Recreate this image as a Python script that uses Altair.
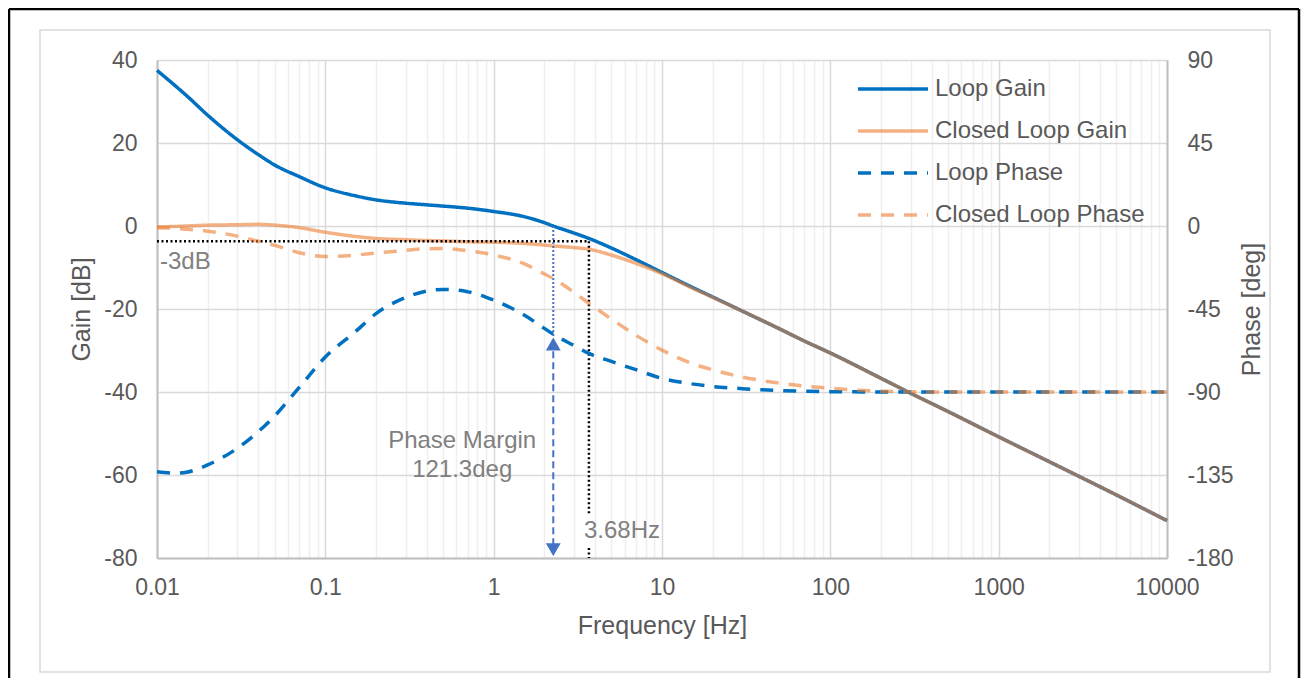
import altair as alt
import pandas as pd

# ---------------- data ----------------
freqs = [0.01, 0.013, 0.015, 0.02, 0.03, 0.04, 0.05, 0.07, 0.1, 0.15, 0.2, 0.3, 0.4, 0.5, 0.7,
         1, 1.5, 2, 2.26, 3, 3.68, 5, 7, 10, 15, 20, 30, 50, 70, 100, 200, 300, 500, 1000,
         2000, 5000, 10000]

loop_gain = [37.5, 33.6, 31.4, 26.7, 20.8, 17.2, 14.7, 11.9, 9.2, 7.3, 6.3, 5.5, 5.1, 4.8, 4.3,
             3.5, 2.3, 0.8, 0.0, -1.7, -3.0, -5.3, -8.1, -11.2, -14.7, -17.1, -20.5, -24.8, -27.7, -30.6,
             -36.7, -40.3, -44.7, -50.8, -56.8, -64.8, -71.0]

closed_loop_gain = [-0.2, -0.1, 0.0, 0.2, 0.3, 0.4, 0.2, -0.4, -1.5, -2.5, -3.0, -3.3, -3.5, -3.6, -3.8,
                    -3.9, -4.2, -4.6, -4.8, -5.2, -5.6, -7.0, -9.0, -11.5, -14.9, -17.2, -20.5, -24.8, -27.7, -30.6,
                    -36.7, -40.3, -44.7, -50.8, -56.8, -64.8, -71.0]

loop_phase = [-133.3, -134.0, -133.5, -129.5, -120.5, -111.5, -103.0, -87.5, -71.0, -57.5, -47.5, -38.8, -35.3, -34.4, -35.6,
              -40.2, -48.0, -55.5, -58.7, -64.8, -69.1, -73.4, -77.9, -82.6, -85.6, -87.0, -88.2, -89.2, -89.6, -89.8,
              -90.0, -90.0, -90.0, -90.0, -90.0, -90.0, -90.0]

closed_loop_phase = [-0.9, -1.3, -1.7, -2.8, -5.5, -8.3, -10.5, -14.5, -16.6, -15.8, -14.7, -13.2, -12.3, -12.2, -13.4,
                     -15.7, -20.3, -26.0, -28.5, -36.0, -41.9, -50.4, -59.2, -67.3, -74.5, -78.0, -81.9, -85.2, -86.8, -88.0,
                     -89.6, -89.9, -90.0, -90.0, -90.0, -90.0, -90.0]

series_names = ["Loop Gain", "Closed Loop Gain", "Loop Phase", "Closed Loop Phase"]
series_colors = ["#0070C0", "#ED7D31", "#0070C0", "#ED7D31"]
series_dashes = [[1, 0], [1, 0], [13, 10], [13, 10]]
series_opacity = [1.0, 0.6, 1.0, 0.6]

gain_ticks = [-80, -60, -40, -20, 0, 20, 40]
phase_ticks = [-180, -135, -90, -45, 0, 45, 90]
x_grid_values = [d * 10.0 ** k for k in range(-2, 4) for d in range(1, 10)] + [10000]

# annotation values
minus3db_level = -3.7
bw_freq = 3.68
crossover_freq = 2.26
crossover_phase = -58.7

FONT = "Liberation Sans"
TXT = "#595959"
ANN = "#808080"
ARROW = "#4472C4"


def frame(ys, name):
    return pd.DataFrame({"f": freqs, "v": ys, "series": name})


# ---------------- encodings ----------------
decade_test = "abs(log(datum.value)/LN10 - round(log(datum.value)/LN10)) < 0.001"
x_axis = alt.Axis(values=x_grid_values,
                  labelExpr=f"({decade_test}) ? ('' + datum.value) : ''",
                  labelFlush=False, labelOverlap=False,
                  grid=True,
                  gridColor={"condition": {"test": decade_test, "value": "#d9d9d9"}, "value": "#efefef"},
                  gridWidth=1.5, ticks=False, tickSize=0, labelPadding=18,
                  domainColor="#bfbfbf", domainWidth=2,
                  labelFont=FONT, labelFontSize=23, labelColor=TXT,
                  title="Frequency [Hz]", titleFont=FONT, titleFontSize=25, titleColor=TXT,
                  titleFontWeight="normal", titlePadding=14)
x_enc = alt.X("f:Q", scale=alt.Scale(type="log", domain=[0.01, 10000], nice=False), axis=x_axis)

gain_axis = alt.Axis(values=gain_ticks, orient="left", grid=True, gridColor="#d9d9d9", gridWidth=1.5,
                     ticks=False, tickSize=0, labelPadding=20, domainColor="#bfbfbf", domainWidth=2,
                     labelExpr="'' + datum.value", labelFlush=False,
                     labelFont=FONT, labelFontSize=23, labelColor=TXT,
                     title="Gain [dB]", titleFont=FONT, titleFontSize=25, titleColor=TXT,
                     titleFontWeight="normal", titlePadding=9)
gain_y = alt.Y("v:Q", scale=alt.Scale(domain=[-80, 40], nice=False, zero=False), axis=gain_axis)

phase_axis = alt.Axis(values=phase_ticks, orient="right", grid=False,
                      ticks=False, tickSize=0, labelPadding=20, domainColor="#bfbfbf", domainWidth=2,
                      labelExpr="'' + datum.value", labelFlush=False,
                      labelFont=FONT, labelFontSize=23, labelColor=TXT,
                      title="Phase [deg]", titleFont=FONT, titleFontSize=25, titleColor=TXT,
                      titleFontWeight="normal", titlePadding=31, titleAngle=270)
phase_y = alt.Y("v:Q", scale=alt.Scale(domain=[-180, 90], nice=False, zero=False), axis=phase_axis)

# legend symbol: a 70 px horizontal stroke drawn from a custom path (unit = sqrt(size)/2 = 25 px)
legend = alt.Legend(orient="none", legendX=709, legendY=2, title=None,
                    symbolType="M-1.4,0H1.4", symbolSize=2500, symbolStrokeWidth=3.5,
                    labelFont=FONT, labelFontSize=24, labelColor=TXT, labelOffset=15,
                    labelLimit=400, rowPadding=3, padding=0, direction="vertical")

color_enc = alt.Color("series:N", scale=alt.Scale(domain=series_names, range=series_colors), legend=legend)
dash_enc = alt.StrokeDash("series:N", scale=alt.Scale(domain=series_names, range=series_dashes), legend=legend)
op_enc = alt.Opacity("series:N", scale=alt.Scale(type="ordinal", domain=series_names, range=series_opacity),
                     legend=legend)

one = pd.DataFrame({"a": [0]})

# decorative frames
gray_frame = alt.Chart(one).mark_rect(fillOpacity=0, stroke="#d9d9d9", strokeWidth=1.5).encode(
    x=alt.value(-117), x2=alt.value(1113), y=alt.value(-30), y2=alt.value(612))
black_left = alt.Chart(one).mark_rule(color="black", strokeWidth=2.5).encode(
    x=alt.value(-148), y=alt.value(-51), y2=alt.value(700))
black_right = alt.Chart(one).mark_rule(color="black", strokeWidth=2.5).encode(
    x=alt.value(1142), y=alt.value(-51), y2=alt.value(700))
black_top = alt.Chart(one).mark_rule(color="black", strokeWidth=2.5).encode(
    x=alt.value(-148), x2=alt.value(1142), y=alt.value(-51))

# gain lines
lg = alt.Chart(frame(loop_gain, "Loop Gain")).mark_line(strokeWidth=3.5, interpolate="monotone").encode(
    x=x_enc, y=gain_y, color=color_enc, strokeDash=dash_enc, opacity=op_enc)
clg = alt.Chart(frame(closed_loop_gain, "Closed Loop Gain")).mark_line(strokeWidth=3.5, interpolate="monotone").encode(
    x=x_enc, y=gain_y, color=color_enc, strokeDash=dash_enc, opacity=op_enc)

# -3 dB dotted lines
h_df = pd.DataFrame({"f": [0.01], "f2": [bw_freq], "v": [minus3db_level]})
h_rule = alt.Chart(h_df).mark_rule(color="black", strokeWidth=2.5, strokeDash=[2, 2.5]).encode(
    x=x_enc, x2="f2:Q", y=gain_y)
v_df = pd.DataFrame({"f": [bw_freq, bw_freq], "v": [minus3db_level, -77.6], "v2": [-69.2, -80.0]})
v_rule = alt.Chart(v_df).mark_rule(color="black", strokeWidth=2.5, strokeDash=[2, 2.5]).encode(
    x=x_enc, y=gain_y, y2="v2:Q")
cross_df = pd.DataFrame({"f": [crossover_freq], "v": [0.0], "v2": [-26.5]})
cross_rule = alt.Chart(cross_df).mark_rule(color=ARROW, strokeWidth=2, strokeDash=[2, 2]).encode(
    x=x_enc, y=gain_y, y2="v2:Q")

t3db = alt.Chart(pd.DataFrame({"f": [0.01], "v": [-8.7], "t": ["-3dB"]})).mark_text(
    align="left", baseline="middle", dx=3, font=FONT, fontSize=24, color=ANN).encode(
    x=x_enc, y=gain_y, text="t:N")
thz = alt.Chart(pd.DataFrame({"f": [bw_freq], "v": [-73.6], "t": ["3.68Hz"]})).mark_text(
    align="left", baseline="middle", dx=-5, font=FONT, fontSize=24, color=ANN).encode(
    x=x_enc, y=gain_y, text="t:N")

gain_layer = alt.layer(gray_frame, black_left, black_right, black_top,
                       lg, clg, h_rule, v_rule, cross_rule, t3db, thz)

# phase lines
lp = alt.Chart(frame(loop_phase, "Loop Phase")).mark_line(strokeWidth=3.5, interpolate="monotone").encode(
    x=x_enc, y=phase_y, color=color_enc, strokeDash=dash_enc, opacity=op_enc)
clp = alt.Chart(frame(closed_loop_phase, "Closed Loop Phase")).mark_line(strokeWidth=3.5, interpolate="monotone").encode(
    x=x_enc, y=phase_y, color=color_enc, strokeDash=dash_enc, opacity=op_enc)

arrow_df = pd.DataFrame({"f": [crossover_freq], "v": [-62.0], "v2": [-178.0]})
arrow_line = alt.Chart(arrow_df).mark_rule(color=ARROW, strokeWidth=2, strokeDash=[7, 4]).encode(
    x=x_enc, y=phase_y, y2="v2:Q")
head_up = alt.Chart(pd.DataFrame({"f": [crossover_freq], "v": [-64.0]})).mark_point(
    shape="triangle-up", filled=True, size=220, color=ARROW, opacity=1).encode(x=x_enc, y=phase_y)
head_down = alt.Chart(pd.DataFrame({"f": [crossover_freq], "v": [-175.5]})).mark_point(
    shape="triangle-down", filled=True, size=220, color=ARROW, opacity=1).encode(x=x_enc, y=phase_y)
pm_text = alt.Chart(pd.DataFrame({"f": [0.65, 0.65], "v": [-116.6, -132.3],
                                  "t": ["Phase Margin", "121.3deg"]})).mark_text(
    align="center", baseline="middle", font=FONT, fontSize=24, color=ANN).encode(
    x=x_enc, y=phase_y, text="t:N")

phase_layer = alt.layer(lp, clp, arrow_line, head_up, head_down, pm_text)

chart = alt.layer(gain_layer, phase_layer).resolve_scale(y="independent").properties(
    width=1010, height=498,
    padding={"left": 149, "top": 52, "right": 134, "bottom": 120},
    autosize=alt.AutoSizeParams(type="none"),
    background="white",
).configure_view(stroke=None)

chart.save("out.html", embed_options={"renderer": "svg", "actions": False})
